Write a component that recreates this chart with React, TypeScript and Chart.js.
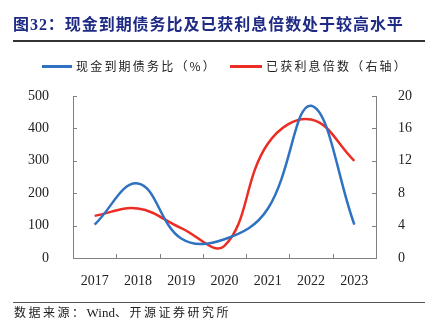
import React, { useEffect, useRef } from "react";
import { Chart, registerables } from "chart.js";

Chart.register(...registerables);

const categories = ["2017", "2018", "2019", "2020", "2021", "2022", "2023"];
const cashDebtRatio = [103, 230, 60, 58, 152, 470, 103];
const interestCoverage = [5.2, 6.1, 3.7, 1.5, 14.1, 17.1, 12.0];
const leftTicks = [0, 100, 200, 300, 400, 500];
const rightTicks = [0, 4, 8, 12, 16, 20];

const seriesNames = ["现金到期债务比（%）", "已获利息倍数（右轴）"];
const BLUE = "#2F72C1";
const RED = "#EC2D25";
const AXIS = "#808080";
const TEXT = "#222";

const innerTicks = {
  id: "innerTicks",
  afterDraw(chart: any) {
    const { ctx } = chart;
    const x = chart.scales.x;
    const y = chart.scales.y;
    const y1 = chart.scales.y1;
    ctx.save();
    ctx.strokeStyle = AXIS;
    ctx.lineWidth = 1;
    const line = (a: number, b: number, c: number, d: number) => {
      ctx.beginPath();
      ctx.moveTo(a, b);
      ctx.lineTo(c, d);
      ctx.stroke();
    };
    y.ticks.forEach((_: any, i: number) => {
      const py = Math.round(y.getPixelForTick(i)) + 0.5;
      line(y.right, py, y.right + 4, py);
    });
    y1.ticks.forEach((_: any, i: number) => {
      const py = Math.round(y1.getPixelForTick(i)) + 0.5;
      line(y1.left - 4, py, y1.left, py);
    });
    for (let i = 0; i < x.ticks.length - 1; i++) {
      const px = Math.round((x.getPixelForTick(i) + x.getPixelForTick(i + 1)) / 2) + 0.5;
      line(px, x.top - 4, px, x.top);
    }
    ctx.restore();
  },
};

export default function App() {
  const ref = useRef<HTMLCanvasElement>(null);
  useEffect(() => {
    document.body.style.margin = "0";
    const chart = new Chart(ref.current!, {
      type: "line",
      data: {
        labels: categories,
        datasets: [
          {
            label: seriesNames[0],
            data: cashDebtRatio,
            borderColor: BLUE,
            backgroundColor: BLUE,
            borderWidth: 2.5,
            pointRadius: 0,
            tension: 0.4,
            yAxisID: "y",
          },
          {
            label: seriesNames[1],
            data: interestCoverage,
            borderColor: RED,
            backgroundColor: RED,
            borderWidth: 2.5,
            pointRadius: 0,
            tension: 0.4,
            yAxisID: "y1",
          },
        ],
      },
      options: {
        animation: false,
        responsive: false,
        maintainAspectRatio: false,
        layout: { padding: { top: 96, bottom: 41, left: 0, right: 0 } },
        plugins: { legend: { display: false }, tooltip: { enabled: false } },
        scales: {
          x: {
            offset: true,
            grid: { display: false, offset: true },
            border: { display: true, color: AXIS, width: 1 },
            ticks: {
              color: TEXT,
              font: { family: "'Liberation Serif'", size: 14 },
              padding: 7,
              maxRotation: 0,
            },
            afterFit: (s: any) => {
              s.height = 30;
            },
          },
          y: {
            position: "left",
            min: 0,
            max: 500,
            afterBuildTicks: (s: any) => {
              s.ticks = leftTicks.map((v) => ({ value: v }));
            },
            grid: { display: false },
            border: { display: true, color: AXIS, width: 1 },
            ticks: {
              color: TEXT,
              font: { family: "'Liberation Serif'", size: 14 },
              padding: 16,
            },
            afterFit: (s: any) => {
              s.width = 73;
            },
          },
          y1: {
            position: "right",
            min: 0,
            max: 20,
            afterBuildTicks: (s: any) => {
              s.ticks = rightTicks.map((v) => ({ value: v }));
            },
            grid: { display: false },
            border: { display: true, color: AXIS, width: 1 },
            ticks: {
              color: TEXT,
              font: { family: "'Liberation Serif'", size: 14 },
              padding: 14,
            },
            afterFit: (s: any) => {
              s.width = 57;
            },
          },
        },
      },
      plugins: [innerTicks],
    });
    return () => chart.destroy();
  }, []);

  const legendText: React.CSSProperties = {
    position: "absolute",
    top: 58,
    fontFamily: "'Noto Sans CJK SC', sans-serif",
    fontSize: 12,
    letterSpacing: "2.2px",
    color: TEXT,
    lineHeight: "16px",
    whiteSpace: "nowrap",
  };

  return (
    <div
      style={{
        position: "fixed",
        left: 0,
        top: 0,
        width: 433,
        height: 329,
        background: "#fff",
        overflow: "hidden",
      }}
    >
      <canvas ref={ref} width={433} height={329} style={{ position: "absolute", left: 0, top: 0, width: 433, height: 329 }} />
      <div
        style={{
          position: "absolute",
          left: 13,
          top: 15,
          fontFamily: "'Liberation Serif', 'Noto Sans CJK SC', serif",
          fontWeight: "bold",
          fontSize: 16,
          letterSpacing: "0.95px",
          lineHeight: "20px",
          color: "#1E2A84",
          whiteSpace: "nowrap",
        }}
      >
        图32：现金到期债务比及已获利息倍数处于较高水平
      </div>
      <div style={{ position: "absolute", left: 13, top: 40, width: 412, height: 1.5, background: "#333" }} />
      <div style={{ position: "absolute", left: 42, top: 65, width: 30, height: 2.5, background: BLUE }} />
      <div style={{ ...legendText, left: 76 }}>{seriesNames[0]}</div>
      <div style={{ position: "absolute", left: 230, top: 65, width: 32, height: 2.5, background: RED }} />
      <div style={{ ...legendText, left: 266 }}>{seriesNames[1]}</div>
      <div style={{ position: "absolute", left: 13, top: 302, width: 412, height: 1, background: "#555" }} />
      <div
        style={{
          position: "absolute",
          left: 14,
          top: 305,
          fontFamily: "'Liberation Serif', 'Noto Sans CJK SC', serif",
          fontSize: 12,
          letterSpacing: "2.5px",
          lineHeight: "16px",
          color: TEXT,
          whiteSpace: "nowrap",
        }}
      >
        数据来源：<span style={{ letterSpacing: 0, fontSize: 13 }}>Wind</span>、开源证券研究所
      </div>
    </div>
  );
}
